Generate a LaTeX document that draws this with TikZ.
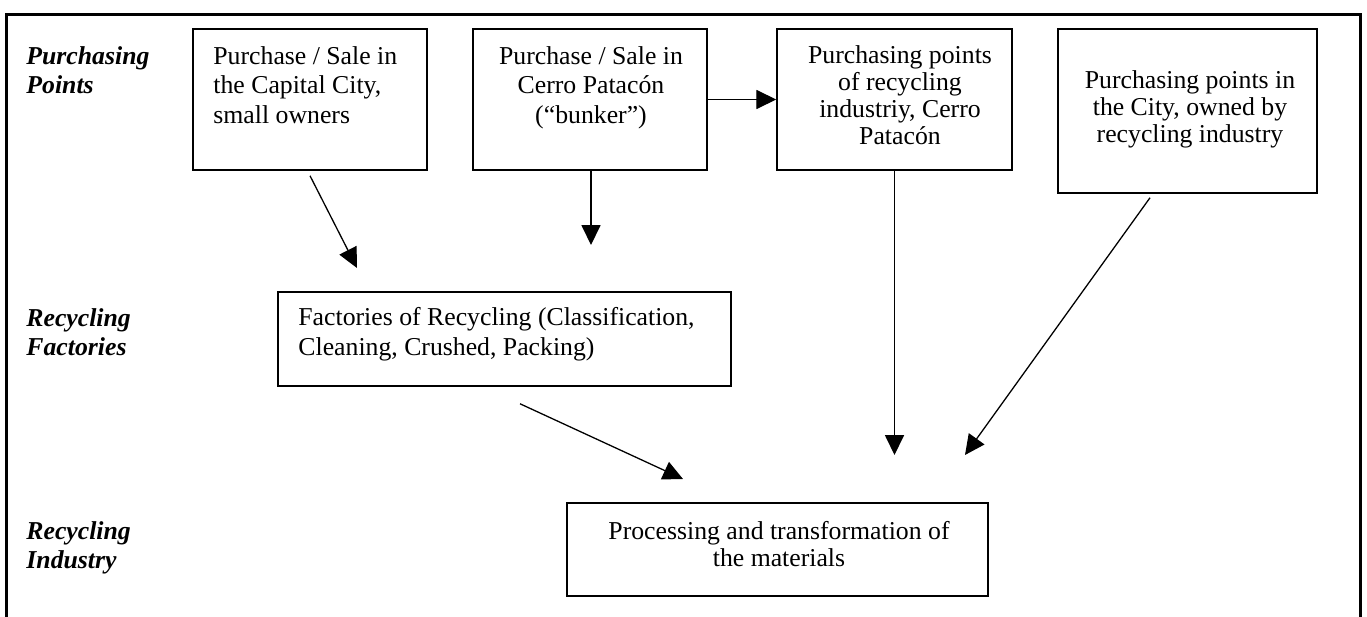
\documentclass[tikz,border=0pt]{standalone}
\usepackage{fontspec}
\setmainfont{Liberation Serif}
\usetikzlibrary{arrows.meta,calc}
\newlength\pxu
\setlength\pxu{0.466pt}
\begin{document}
\begin{tikzpicture}[x=0.466pt, y=-0.466pt,
  box/.style={draw, line width=0.7pt, inner sep=0pt},
  arr/.style={line width=0.6pt, -{Triangle[length=9.3pt,width=8.9pt]}},
  txt/.style={font=\fontsize{12}{13.7}\selectfont, inner sep=0pt},
  txtb/.style={font=\fontsize{12}{12.5}\selectfont, inner sep=0pt},
  lbl/.style={font=\fontsize{12}{13.5}\selectfont\bfseries\itshape, inner sep=0pt, align=left, anchor=base west},
  frame/.style={line width=1.4pt}]
\useasboundingbox (0,0) rectangle (1367,617);
% frame
\coordinate (fbl) at (6.5,620);
\coordinate (ftl) at (6.5,14.5);
\coordinate (ftr) at (1360,14.5);
\coordinate (fbr) at (1360,620);
\draw[frame] (fbl) -- (ftl) -- (ftr) -- (fbr);
% row labels (anchor = baseline of last line)
\node[lbl] (l1) at (26,93) {Purchasing\\Points};
\node[lbl] (l2) at (26,355) {Recycling\\Factories};
\node[lbl] (l3) at (26,568) {Recycling\\Industry};
% boxes
\node[box, minimum width=234*\pxu, minimum height=141*\pxu] (b1) at (310,99.5) {};
\node[box, minimum width=234*\pxu, minimum height=141*\pxu] (b2) at (590,99.5) {};
\node[box, minimum width=235*\pxu, minimum height=141*\pxu] (b3) at (894.5,99.5) {};
\node[box, minimum width=259*\pxu, minimum height=164*\pxu] (b4) at (1187.5,111) {};
\node[box, minimum width=453*\pxu, minimum height=94*\pxu] (fac) at (504.5,339) {};
\node[box, minimum width=421*\pxu, minimum height=93*\pxu] (proc) at (777.5,549.5) {};
% texts (anchor = baseline of last line)
\node[txt, align=left, anchor=base west] (b1t) at (213,123) {Purchase / Sale in\\the Capital City,\\small owners};
\node[txt, align=center, anchor=base] (b2t) at (591,123) {Purchase / Sale in\\Cerro Patac\'on\\(``bunker'')};
\node[txtb, align=center, anchor=base] (b3t) at (900,144) {Purchasing points\\of recycling\\industriy, Cerro\\Patac\'on};
\node[txtb, align=center, anchor=base] (b4t) at (1190,142) {Purchasing points in\\the City, owned by\\recycling industry};
\node[txt, align=left, anchor=base west] (fact) at (298,355) {Factories of Recycling (Classification,\\Cleaning, Crushed, Packing)};
\node[txtb, align=center, anchor=base] (proct) at (779,566) {Processing and transformation of\\the materials};
% arrow tips (free ends)
\coordinate (t1) at (357,268);
\coordinate (t2) at (591,245);
\coordinate (t3) at (683,479);
\coordinate (t4) at (894.5,455);
\coordinate (t5) at (965,455);
% connectors
\draw[arr] ($(b1.south)+(0,5)$) -- (t1);
\draw[arr] ($(b2.south)+(1,0)$) -- (t2);
\draw[arr] (b2.east) -- (b3.west);
\draw[arr] ($(fac.south)+(15.5,17)$) -- (t3);
\draw[arr] (b3.south) -- (t4);
\draw[arr] ($(b4.south)+(-37.5,4)$) -- (t5);
\end{tikzpicture}
\end{document}
